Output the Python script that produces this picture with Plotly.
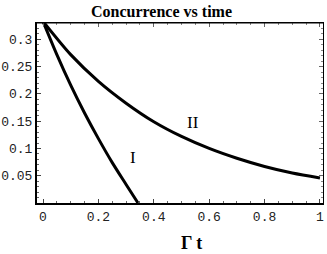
import plotly.graph_objects as go

# data
t_I = [0.0, 0.05, 0.10, 0.15, 0.20, 0.25, 0.30, 0.343]
c_I = [0.333, 0.272, 0.216, 0.165, 0.118, 0.074, 0.034, 0.0]
t_II = [0.0, 0.1, 0.2, 0.3, 0.4, 0.5, 0.6, 0.7, 0.8, 0.9, 1.0]
c_II = [0.333, 0.272, 0.223, 0.183, 0.149, 0.122, 0.100, 0.082, 0.067, 0.055, 0.046]
x_ticks = [0, 0.2, 0.4, 0.6, 0.8, 1]
x_tick_text = ["0", "0.2", "0.4", "0.6", "0.8", "1"]
y_ticks = [0.05, 0.1, 0.15, 0.2, 0.25, 0.3]
y_tick_text = ["0.05", "0.1", "0.15", "0.2", "0.25", "0.3"]

XR = [-0.0217, 1.011]
YR = [0.0, 0.330]
mono = dict(family="Liberation Mono, Courier New, monospace", size=13, color="#222")
serif = "Liberation Serif, Times New Roman, serif"

fig = go.Figure()
for tx, cy in [(t_I, c_I), (t_II, c_II)]:
    fig.add_trace(go.Scatter(x=tx, y=cy, mode="lines",
                             line=dict(color="black", width=3, shape="spline", smoothing=0.8),
                             showlegend=False, hoverinfo="skip", cliponaxis=True))

# invisible trace for top/right mirrored axes
fig.add_trace(go.Scatter(x=[None], y=[None], xaxis="x2", yaxis="y2", showlegend=False))

fig.update_layout(
    width=327, height=254,
    margin=dict(l=37, r=4, t=23, b=51, autoexpand=False),
    paper_bgcolor="white", plot_bgcolor="white",
    template="none",
    xaxis=dict(range=XR, showgrid=False, zeroline=False, showline=True, linecolor="black",
               linewidth=2, ticks="inside", ticklen=4, tickcolor="#444", tickwidth=1,
               tickvals=x_ticks, ticktext=x_tick_text, tickfont=mono, automargin=False,
               minor=dict(dtick=0.05, tick0=0, ticks="inside", ticklen=2, tickcolor="#666", showgrid=False)),
    yaxis=dict(range=YR, showgrid=False, zeroline=False, showline=True, linecolor="black",
               linewidth=2, ticks="inside", ticklen=4, tickcolor="#444", tickwidth=1,
               tickvals=y_ticks, ticktext=y_tick_text, tickfont=mono, automargin=False,
               minor=dict(dtick=0.01, tick0=0, ticks="inside", ticklen=2, tickcolor="#666", showgrid=False)),
    xaxis2=dict(range=XR, overlaying="x", side="top", showgrid=False, zeroline=False,
                showline=True, linecolor="black", linewidth=1, ticks="inside", ticklen=4,
                tickcolor="#666", tickvals=x_ticks, showticklabels=False, automargin=False,
                minor=dict(dtick=0.05, tick0=0, ticks="inside", ticklen=2, tickcolor="#888")),
    yaxis2=dict(range=YR, overlaying="y", side="right", showgrid=False, zeroline=False,
                showline=True, linecolor="black", linewidth=1, ticks="inside", ticklen=4,
                tickcolor="#666", tickvals=y_ticks, showticklabels=False, automargin=False,
                minor=dict(dtick=0.01, tick0=0, ticks="inside", ticklen=2, tickcolor="#888")),
    shapes=[dict(type="line", xref="paper", yref="paper", x0=0, x1=1, y0=1, y1=1,
                 line=dict(color="black", width=1))],
    annotations=[
        dict(text="<b>Concurrence vs time</b>", xref="paper", yref="paper",
             x=(161 - 37) / 286, y=1 + (23 - 11) / 180, xanchor="center", yanchor="middle",
             showarrow=False, font=dict(family=serif, size=16, color="black")),
        dict(text="<b>Γ t</b>", xref="paper", yref="paper",
             x=(191 - 37) / 286, y=-(243 - 203) / 180, xanchor="center", yanchor="middle",
             borderpad=0, showarrow=False, font=dict(family=serif, size=18, color="black")),
        dict(text="I", x=0.325, y=0.083, xref="x", yref="y", showarrow=False,
             xanchor="center", yanchor="middle", font=dict(family=serif, size=17, color="black")),
        dict(text="II", x=0.54, y=0.147, xref="x", yref="y", showarrow=False,
             xanchor="center", yanchor="middle", font=dict(family=serif, size=17, color="black")),
    ],
)

fig.write_html("out.html", config={"displayModeBar": False},
               post_script="document.body.style.margin='0';document.body.style.padding='0';")
